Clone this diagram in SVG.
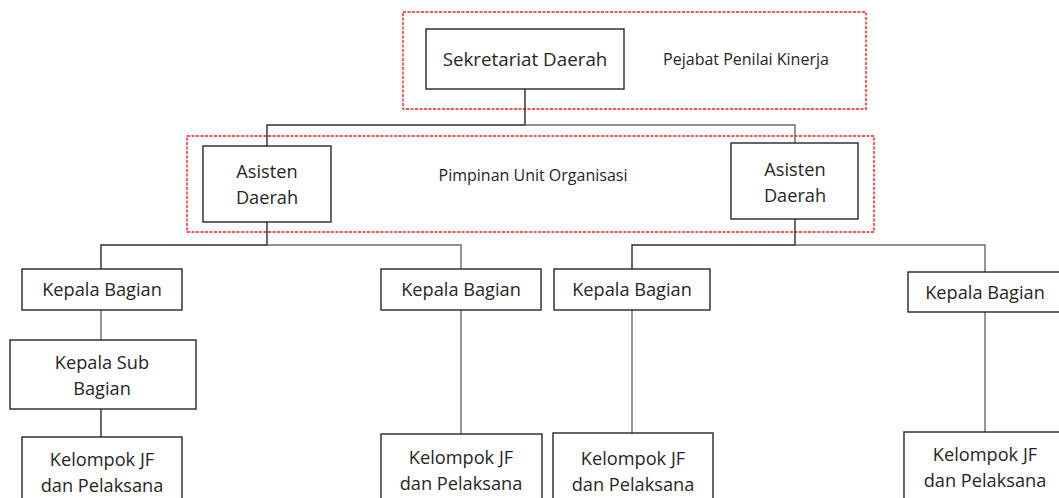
<svg xmlns="http://www.w3.org/2000/svg" width="1059" height="498" viewBox="0 0 1059 498">
  <style>
    .box { fill: #ffffff; stroke: #262626; stroke-width: 1.4; }
    .zone { fill: none; stroke: #ff1a1a; stroke-width: 1.4; stroke-dasharray: 3 1.5; }
    .link { fill: none; stroke: #2b2b2b; stroke-width: 1.4; }
    .link.soft { stroke: #6a6a6a; }
    text { font-family: "Open Sans", "Noto Sans", sans-serif; fill: #262626; text-anchor: middle; }
    .lbl { font-size: 18.2px; }
    .big { font-size: 18.8px; }
    .note { font-size: 16px; }
  </style>

  <rect width="1059" height="498" fill="#ffffff"/>

  <!-- evaluator / unit-leader zones -->
  <g id="zones">
    <rect class="zone" x="403" y="12" width="463" height="97"/>
    <rect class="zone" x="187" y="136" width="687" height="96"/>
    <text class="note" x="746" y="65">Pejabat Penilai Kinerja</text>
    <text class="note" x="533" y="181">Pimpinan Unit Organisasi</text>
  </g>

  <!-- connectors -->
  <g id="connectors">
    <path class="link" d="M525 89 V125 H267 V146"/>
    <path class="link soft" d="M525 125 H795 V143"/>
    <path class="link" d="M267 222 V245 H101 V269"/>
    <path class="link soft" d="M267 245 H461 V269"/>
    <path class="link" d="M795 219 V245 H632 V269"/>
    <path class="link soft" d="M795 245 H985 V272"/>
    <path class="link soft" d="M101 310 V340"/>
    <path class="link" d="M101 409 V437"/>
    <path class="link soft" d="M461 310 V434"/>
    <path class="link soft" d="M632 310 V433"/>
    <path class="link soft" d="M985 312 V432"/>
  </g>

  <g id="sekda">
    <rect class="box" x="426" y="29" width="198" height="60"/>
    <text class="big" x="525" y="66">Sekretariat Daerah</text>
  </g>

  <g id="asisten-1">
    <rect class="box" x="203" y="146" width="128" height="76"/>
    <text class="lbl" x="267" y="178">Asisten</text>
    <text class="lbl" x="267" y="204">Daerah</text>
  </g>

  <g id="asisten-2">
    <rect class="box" x="731" y="143" width="127" height="76"/>
    <text class="lbl" x="795" y="176">Asisten</text>
    <text class="lbl" x="795" y="202">Daerah</text>
  </g>

  <g id="kabag-1">
    <rect class="box" x="22" y="269" width="160" height="41"/>
    <text class="lbl" x="102" y="296">Kepala Bagian</text>
  </g>

  <g id="kasubag-1">
    <rect class="box" x="10" y="340" width="186" height="69"/>
    <text class="lbl" x="102" y="369">Kepala Sub</text>
    <text class="lbl" x="102" y="395">Bagian</text>
  </g>

  <g id="jf-1">
    <rect class="box" x="22" y="437" width="160" height="70"/>
    <text class="lbl" x="102" y="466">Kelompok JF</text>
    <text class="lbl" x="102" y="492">dan Pelaksana</text>
  </g>

  <g id="kabag-2">
    <rect class="box" x="381" y="269" width="160" height="41"/>
    <text class="lbl" x="461" y="296">Kepala Bagian</text>
  </g>

  <g id="jf-2">
    <rect class="box" x="381" y="434" width="161" height="70"/>
    <text class="lbl" x="461" y="464">Kelompok JF</text>
    <text class="lbl" x="461" y="490">dan Pelaksana</text>
  </g>

  <g id="kabag-3">
    <rect class="box" x="554" y="269" width="156" height="41"/>
    <text class="lbl" x="632" y="296">Kepala Bagian</text>
  </g>

  <g id="jf-3">
    <rect class="box" x="553" y="433" width="160" height="70"/>
    <text class="lbl" x="633" y="465">Kelompok JF</text>
    <text class="lbl" x="633" y="491">dan Pelaksana</text>
  </g>

  <g id="kabag-4">
    <rect class="box" x="908" y="272" width="160" height="40"/>
    <text class="lbl" x="985" y="299">Kepala Bagian</text>
  </g>

  <g id="jf-4">
    <rect class="box" x="904" y="432" width="165" height="70"/>
    <text class="lbl" x="985" y="461">Kelompok JF</text>
    <text class="lbl" x="985" y="487">dan Pelaksana</text>
  </g>
</svg>
